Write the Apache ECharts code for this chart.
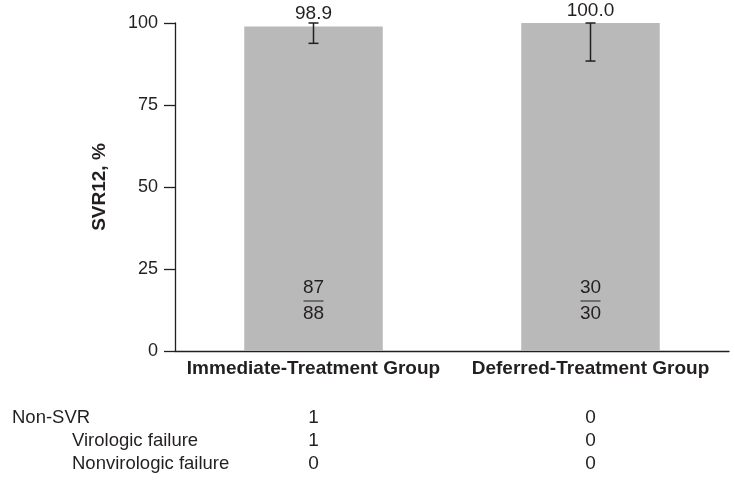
<!DOCTYPE html>
<html><head><meta charset="utf-8">
<script src="https://cdn.jsdelivr.net/npm/echarts@6/dist/echarts.min.js"></script>
<style>html,body{margin:0;padding:0;background:#fff}#c{width:735px;height:488px}</style>
</head><body><div id="c"></div>
<script>
const categories = ['Immediate-Treatment Group', 'Deferred-Treatment Group'];
const svrValues = [98.9, 100.0];
const ciLow = [93.8, 88.4];
const ciHigh = [100, 100];
const responders = [87, 30];
const totals = [88, 30];
const yTickValues = [0, 25, 50, 75, 100];
const tableRowLabels = ['Non-SVR', 'Virologic failure', 'Nonvirologic failure'];
const tableRowIndent = [0, 1, 1];
const tableImmediate = [1, 1, 0];
const tableDeferred = [0, 0, 0];

const FONT = '"Liberation Sans", Arial, sans-serif';
const INK = '#231f20';
const chart = echarts.init(document.getElementById('c'), null, {renderer: 'canvas'});

const option = {
  backgroundColor: '#ffffff',
  animation: false,
  grid: {left: 175, right: 6, top: 23, bottom: 137, containLabel: false},
  xAxis: {
    type: 'category',
    data: categories,
    axisLine: {lineStyle: {color: INK, width: 1.3}},
    axisTick: {show: false},
    axisLabel: {color: INK, fontSize: 19, fontWeight: 'bold', fontFamily: FONT, margin: 8, interval: 0}
  },
  yAxis: {
    type: 'value',
    min: yTickValues[0],
    max: yTickValues[yTickValues.length - 1],
    interval: yTickValues[1] - yTickValues[0],
    name: 'SVR12, %',
    nameLocation: 'middle',
    nameGap: 66,
    nameRotate: 90,
    nameTextStyle: {color: INK, fontSize: 19, fontWeight: 'bold', fontFamily: FONT},
    axisLine: {show: true, lineStyle: {color: INK, width: 1.3}},
    axisTick: {show: true, inside: false, length: 11, lineStyle: {color: INK, width: 1.3}},
    axisLabel: {color: INK, fontSize: 18, fontFamily: FONT, margin: 17},
    splitLine: {show: false}
  },
  series: [
    {
      type: 'bar',
      data: svrValues,
      barWidth: '50%',
      itemStyle: {color: '#bab9ba'},
      label: {
        show: true, position: 'top', distance: 3,
        color: INK, fontSize: 19, fontFamily: FONT,
        formatter: p => p.value.toFixed(1)
      },
      z: 2
    },
    {
      type: 'custom',
      data: categories.map((c, i) => [i, ciLow[i], ciHigh[i]]),
      encode: {x: 0, y: [1, 2]},
      z: 5,
      renderItem: function (params, api) {
        const i = api.value(0);
        const lo = api.coord([i, api.value(1)]);
        const hi = api.coord([i, api.value(2)]);
        const hw = 5;
        const st = {stroke: INK, lineWidth: 1.5};
        return {
          type: 'group',
          children: [
            {type: 'line', shape: {x1: lo[0], y1: lo[1], x2: hi[0], y2: hi[1]}, style: st},
            {type: 'line', shape: {x1: lo[0] - hw, y1: lo[1], x2: lo[0] + hw, y2: lo[1]}, style: st},
            {type: 'line', shape: {x1: hi[0] - hw, y1: hi[1], x2: hi[0] + hw, y2: hi[1]}, style: st}
          ]
        };
      }
    },
    {
      type: 'custom',
      data: categories.map((c, i) => [i, 0, responders[i], totals[i]]),
      encode: {x: 0, y: 1},
      z: 5,
      renderItem: function (params, api) {
        const i = api.value(0);
        const base = api.coord([i, api.value(1)]);
        const ts = {fill: INK, fontSize: 19, fontFamily: FONT, align: 'center', verticalAlign: 'middle'};
        return {
          type: 'group',
          children: [
            {type: 'text', x: base[0], y: base[1] - 63, style: Object.assign({text: String(api.value(2))}, ts)},
            {type: 'line', shape: {x1: base[0] - 10, y1: base[1] - 50, x2: base[0] + 10, y2: base[1] - 50}, style: {stroke: INK, lineWidth: 1}},
            {type: 'text', x: base[0], y: base[1] - 37, style: Object.assign({text: String(api.value(3))}, ts)}
          ]
        };
      }
    }
  ]
};
chart.setOption(option);

// Table beneath the chart
const rowY = [418, 441, 464];
const graphics = [];
tableRowLabels.forEach((lab, r) => {
  graphics.push({type: 'text', x: tableRowIndent[r] ? 72 : 12, y: rowY[r],
    style: {text: lab, fill: INK, fontSize: 18.5, fontFamily: FONT, align: 'left', verticalAlign: 'middle'}});
});
const cols = [tableImmediate, tableDeferred];
cols.forEach((vals, ci) => {
  const px = chart.convertToPixel({xAxisIndex: 0}, categories[ci]);
  vals.forEach((v, r) => {
    graphics.push({type: 'text', x: px, y: rowY[r],
      style: {text: String(v), fill: INK, fontSize: 19, fontFamily: FONT, align: 'center', verticalAlign: 'middle'}});
  });
});
chart.setOption({graphic: graphics});
</script>
</body></html>
